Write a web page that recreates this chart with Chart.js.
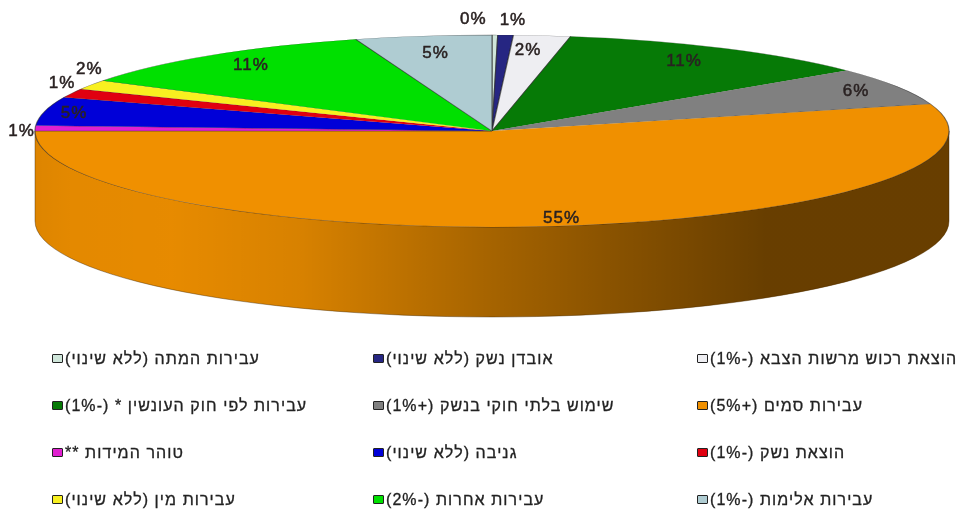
<!DOCTYPE html>
<html lang="he">
<head>
<meta charset="utf-8">
<script src="https://cdn.jsdelivr.net/npm/chart.js@4"></script>
<style>
    html, body { margin: 0; background: #fff; }
    #wrap { position: relative; width: 960px; height: 511px; overflow: hidden; }
    #pie { position: absolute; left: 0; top: 0; }
    #legend {
        position: absolute; left: 52px; top: 335px;
        display: grid; grid-template-columns: 321px 324px 263px; grid-auto-rows: 47px;
        font: 16px "Liberation Sans", Arial, sans-serif; color: #222;
        -webkit-text-stroke: 0.3px #222;
    }
    .item { display: flex; align-items: center; height: 47px; white-space: nowrap; }
    .box { width: 9px; height: 7px; border: 1px solid #222; border-radius: 1px; margin-right: 2px; flex: none; }
    .txt { direction: rtl; letter-spacing: 1.07px; }
</style>
</head>
<body>
<div id="wrap">
    <canvas id="pie" width="960" height="340"></canvas>
    <div id="legend"></div>
</div>
<script>
// slices, clockwise from 12 o'clock
const categories = [
    "עבירות המתה (ללא שינוי)",
    "אובדן נשק (ללא שינוי)",
    "הוצאת רכוש מרשות הצבא (-1%)",
    "עבירות לפי חוק העונשין * (-1%)",
    "שימוש בלתי חוקי בנשק (+1%)",
    "עבירות סמים (+5%)",
    "טוהר המידות **",
    "גניבה (ללא שינוי)",
    "הוצאת נשק (-1%)",
    "עבירות מין (ללא שינוי)",
    "עבירות אחרות (-2%)",
    "עבירות אלימות (-1%)"
];
const values = [0.2, 0.55, 2.0, 11.4, 6.3, 54.55, 0.9, 4.8, 1.49, 1.6, 11.4, 4.81];
const colors = ["#cfe6da", "#262682", "#eeeef2", "#067a06", "#808080", "#f09000",
                "#e020d0", "#0000d8", "#e00010", "#f8f020", "#00e000", "#afccd2"];

// legend cells left to right, row by row (index into categories)
const legendRows = [
    [0, 1, 2],
    [3, 4, 5],
    [6, 7, 8],
    [9, 10, 11]
];

// where the percent text sits: fraction of the radius, then a small nudge in px
const labelRadius = [1.18, 1.17, 0.86, 0.83, 0.9, 0.9, 1.03, 0.93, 1.05, 1.0, 0.86, 0.82];
const labelNudgeX = [-22, 5, -7, 0, 0, 11, 0, -2, 11, -2, 0, 0];
const labelNudgeY = [2, 2, 1, -1, 1, 2, 3, 1, -8, -15, 0, 0];

// the flat pie gets stretched into this ellipse
const RX = 457;
const RY = 96;
const DEPTH = 90;

function drawWall(ctx, arc) {
    const a0 = Math.max(arc.startAngle, 0);
    const a1 = Math.min(arc.endAngle, Math.PI);
    if (a1 <= a0) return;

    const path = new Path2D();
    path.ellipse(arc.x, arc.y, RX, RY, 0, a0, a1);
    path.ellipse(arc.x, arc.y + DEPTH, RX, RY, 0, a1, a0, true);
    path.closePath();

    ctx.fillStyle = arc.options.backgroundColor;
    ctx.fill(path);

    // darkens towards the right, flat brown in the last fifth
    const shade = ctx.createLinearGradient(arc.x - RX, 0, arc.x + RX, 0);
    shade.addColorStop(0, "rgba(0,0,0,0.08)");
    shade.addColorStop(0.04, "rgba(0,0,0,0.05)");
    shade.addColorStop(0.15, "rgba(0,0,0,0.04)");
    shade.addColorStop(0.29, "rgba(0,0,0,0.1)");
    shade.addColorStop(0.49, "rgba(0,0,0,0.3)");
    shade.addColorStop(0.62, "rgba(0,0,0,0.42)");
    shade.addColorStop(0.8, "rgba(0,0,0,0.57)");
    shade.addColorStop(1, "rgba(0,0,0,0.57)");
    ctx.fillStyle = shade;
    ctx.fill(path);

    ctx.strokeStyle = "rgba(50,30,0,0.55)";
    ctx.lineWidth = 0.7;
    ctx.stroke(path);
}

const pie3d = {
    id: "pie3d",
    beforeDatasetsDraw(chart) {
        const ctx = chart.ctx;
        const arcs = chart.getDatasetMeta(0).data;
        arcs.forEach(function (arc) { drawWall(ctx, arc); });

        const first = arcs[0];
        ctx.save();
        ctx.translate(first.x, first.y);
        ctx.scale(RX / first.outerRadius, RY / first.outerRadius);
        ctx.translate(-first.x, -first.y);
    },
    afterDatasetsDraw(chart) {
        chart.ctx.restore();
    },
    afterDraw(chart) {
        const ctx = chart.ctx;
        ctx.save();
        ctx.font = "17px 'Liberation Sans', Arial, sans-serif";
        ctx.letterSpacing = "1px";
        ctx.fillStyle = "#2a2222";
        ctx.strokeStyle = "#2a2222";
        ctx.lineWidth = 0.5;
        ctx.textAlign = "center";
        ctx.textBaseline = "middle";
        chart.getDatasetMeta(0).data.forEach(function (arc, i) {
            const mid = (arc.startAngle + arc.endAngle) / 2;
            const x = arc.x + Math.cos(mid) * RX * labelRadius[i] + labelNudgeX[i];
            const y = arc.y + Math.sin(mid) * RY * labelRadius[i] + labelNudgeY[i];
            const text = Math.round(values[i]) + "%";
            ctx.fillText(text, x, y);
            ctx.strokeText(text, x, y);
        });
        ctx.restore();
    }
};

new Chart(document.getElementById("pie"), {
    type: "pie",
    data: {
        labels: categories,
        datasets: [{
            data: values,
            backgroundColor: colors,
            borderColor: "rgba(40,40,40,0.6)",
            borderWidth: 0.35
        }]
    },
    options: {
        responsive: false,
        animation: false,
        layout: { padding: { left: 24, bottom: 78 } },
        plugins: {
            legend: { display: false },
            tooltip: { enabled: false }
        }
    },
    plugins: [pie3d]
});

// html legend, three columns
const legendEl = document.getElementById("legend");
legendRows.forEach(function (row) {
    row.forEach(function (idx) {
        const item = document.createElement("div");
        item.className = "item";
        const box = document.createElement("span");
        box.className = "box";
        box.style.background = colors[idx];
        const txt = document.createElement("span");
        txt.className = "txt";
        txt.textContent = categories[idx];
        item.appendChild(box);
        item.appendChild(txt);
        legendEl.appendChild(item);
    });
});
</script>
</body>
</html>
